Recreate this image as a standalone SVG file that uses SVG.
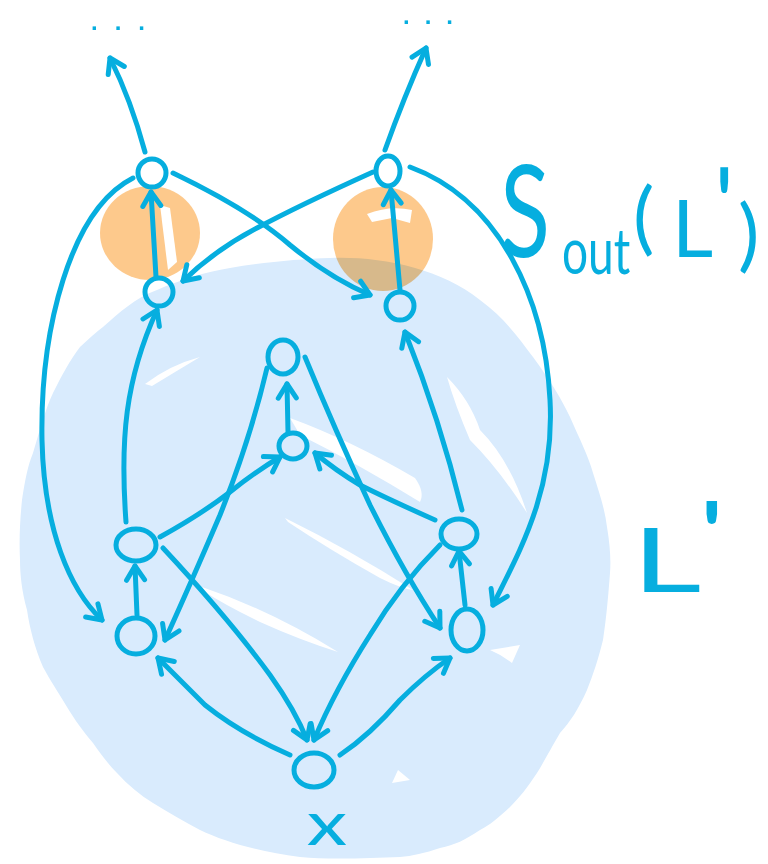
<svg xmlns="http://www.w3.org/2000/svg" width="768" height="864" viewBox="0 0 768 864">
<style>
.ln{fill:none;stroke:#06aedf;stroke-width:5;stroke-linecap:round;stroke-linejoin:round}
.nd{fill:none;stroke:#06aedf;stroke-width:5}
.lbl{fill:#06aedf;font-family:Lato,"Open Sans","Liberation Sans",sans-serif;font-weight:400}
.dots{fill:#06aedf;font-family:"Liberation Sans",sans-serif;font-weight:700}
.wh{fill:#ffffff}
.or{fill:#fdc98c}
</style>
<defs>
<marker id="ah" viewBox="-18 -13 22 26" refX="0" refY="0" markerWidth="22" markerHeight="26" markerUnits="userSpaceOnUse" orient="auto">
<path d="M-14,-9 L0,0 L-14,9" fill="none" stroke="#06aedf" stroke-width="5" stroke-linecap="round" stroke-linejoin="round"/>
</marker>
</defs>
<rect width="768" height="864" fill="#ffffff"/>
<g id="highlights">
<ellipse class="or" cx="150" cy="233" rx="50" ry="47"/>
<ellipse class="or" cx="383" cy="239" rx="50" ry="52"/>
<path class="wh" d="M160,205 L170,208 L177,262 L168,270 Z"/>
<path class="wh" d="M367,214 Q390,205 412,210 L410,223 L392,218 L372,222 Z"/>
</g>
<g id="region-L">
<path fill="#d9ebfd" style="mix-blend-mode:multiply" d="M330,258 C380,256 440,268 480,300 C505,318 520,340 533,357 C550,380 562,400 570,417 C580,440 588,455 593,473 C600,495 605,510 607,527 C610,545 611,560 610,573 C608,600 606,620 603,640 C598,660 593,675 587,690 C578,710 570,722 560,733 C550,750 545,760 537,773 C527,788 520,797 510,807 C498,818 490,825 480,830 C465,840 455,845 440,848 C425,853 412,856 400,857 C370,858 330,860 300,857 C260,852 225,842 200,830 C185,822 168,812 153,803 C140,795 128,785 117,773 C108,764 100,753 93,743 C82,730 75,720 67,707 C58,692 50,680 43,667 C35,648 30,630 27,610 C22,592 20,575 20,560 C19,540 20,520 22,500 C25,480 28,465 33,453 C40,430 45,410 53,393 C62,375 70,360 80,347 C90,338 96,332 103,327 C120,312 135,298 157,290 C180,280 205,272 230,268 C265,262 300,259 330,258 Z"/>
<path class="wh" d="M145,384 Q170,365 200,357 Q175,372 152,386 Z"/>
<path class="wh" d="M290,418 Q350,440 415,478 Q425,492 420,502 Q360,465 300,435 Z"/>
<path class="wh" d="M285,518 Q350,550 413,590 Q400,588 380,578 Q330,550 288,522 Z"/>
<path class="wh" d="M202,587 Q270,610 338,652 Q300,640 260,622 Q225,605 205,592 Z"/>
<path class="wh" d="M447,377 Q470,400 480,430 Q510,460 527,513 Q500,470 470,440 Q455,405 447,377 Z"/>
<path class="wh" d="M380,460 Q405,472 420,500 Q400,488 384,466 Z"/>
<path class="wh" d="M490,650 L520,645 L512,663 Q502,655 490,650 Z"/>
<path class="wh" d="M392,783 L398,770 L410,780 Z"/>
</g>
<g id="connectors">
<path class="ln" marker-end="url(#ah)" d="M145,152 Q131,100 110,58"/>
<path class="ln" marker-end="url(#ah)" d="M385,150 Q404,97 426,48"/>
<path class="ln" marker-end="url(#ah)" d="M156,277 L151,192"/>
<path class="ln" marker-end="url(#ah)" d="M400,290 L391,190"/>
<path class="ln" marker-end="url(#ah)" d="M173,173 Q250,210 290,245 Q330,278 370,295"/>
<path class="ln" marker-end="url(#ah)" d="M373,172 Q300,205 257,228 Q215,250 183,281"/>
<path class="ln" marker-end="url(#ah)" d="M133,178 C70,210 40,330 42,440 C44,530 70,590 102,620"/>
<path class="ln" marker-end="url(#ah)" d="M410,167 C500,200 545,300 550,400 C555,490 520,550 493,605"/>
<path class="ln" marker-end="url(#ah)" d="M126,522 C120,440 125,380 157,310"/>
<path class="ln" marker-end="url(#ah)" d="M462,510 Q440,420 405,332"/>
<path class="ln" marker-end="url(#ah)" d="M288,432 L287,384"/>
<path class="ln" marker-end="url(#ah)" d="M160,537 Q200,515 230,492 Q255,472 280,457"/>
<path class="ln" marker-end="url(#ah)" d="M435,520 Q390,500 360,485 Q335,470 315,453"/>
<path class="ln" marker-end="url(#ah)" d="M267,368 Q250,440 220,515 Q190,585 165,640"/>
<path class="ln" marker-end="url(#ah)" d="M305,357 Q335,430 370,505 Q405,575 440,628"/>
<path class="ln" marker-end="url(#ah)" d="M137,615 L135,566"/>
<path class="ln" marker-end="url(#ah)" d="M465,605 L459,551"/>
<path class="ln" marker-end="url(#ah)" d="M163,548 Q230,620 270,675 Q295,710 307,740"/>
<path class="ln" marker-end="url(#ah)" d="M440,545 Q400,585 370,635 Q335,690 314,740"/>
<path class="ln" marker-end="url(#ah)" d="M290,755 Q240,733 205,705 Q180,680 158,658"/>
<path class="ln" marker-end="url(#ah)" d="M340,755 Q370,735 400,700 Q425,675 450,658"/>
</g>
<g id="node-A"><ellipse class="nd" cx="152" cy="173" rx="14" ry="14"/></g>
<g id="node-B"><ellipse class="nd" cx="388" cy="171" rx="12" ry="15"/></g>
<g id="node-C"><ellipse class="nd" cx="159" cy="292" rx="14" ry="14"/></g>
<g id="node-D"><ellipse class="nd" cx="400" cy="306" rx="14" ry="14"/></g>
<g id="node-E"><ellipse class="nd" cx="283" cy="357" rx="15" ry="17"/></g>
<g id="node-F"><ellipse class="nd" cx="293" cy="446" rx="14" ry="13"/></g>
<g id="node-G"><ellipse class="nd" cx="136" cy="545" rx="20" ry="16"/></g>
<g id="node-H"><ellipse class="nd" cx="459" cy="534" rx="18" ry="15"/></g>
<g id="node-I"><ellipse class="nd" cx="136" cy="636" rx="19" ry="18"/></g>
<g id="node-J"><ellipse class="nd" cx="467" cy="630" rx="16" ry="21"/></g>
<g id="node-K"><ellipse class="nd" cx="314" cy="770" rx="20" ry="17"/></g>
<g id="labels">
<text class="dots" x="91" y="30" font-size="24" letter-spacing="17">...</text>
<text class="dots" x="403" y="24" font-size="24" letter-spacing="15">...</text>
<text class="lbl" transform="translate(500,257) scale(0.72,1)" font-size="128">S<tspan x="86" y="17" font-size="64">out</tspan></text>
<text class="lbl" font-size="80"><tspan x="633" y="245">(</tspan><tspan x="672" y="257">L</tspan><tspan x="714" y="240" font-size="100">'</tspan><tspan x="738" y="262">)</tspan></text>
<text class="lbl" transform="translate(632,592) scale(1.5,1)" font-size="90" font-weight="300">L<tspan x="44" y="-27">'</tspan></text>
<text class="lbl" transform="translate(327,845) scale(1.35,1)" font-size="60" text-anchor="middle">x</text>
</g>
</svg>
